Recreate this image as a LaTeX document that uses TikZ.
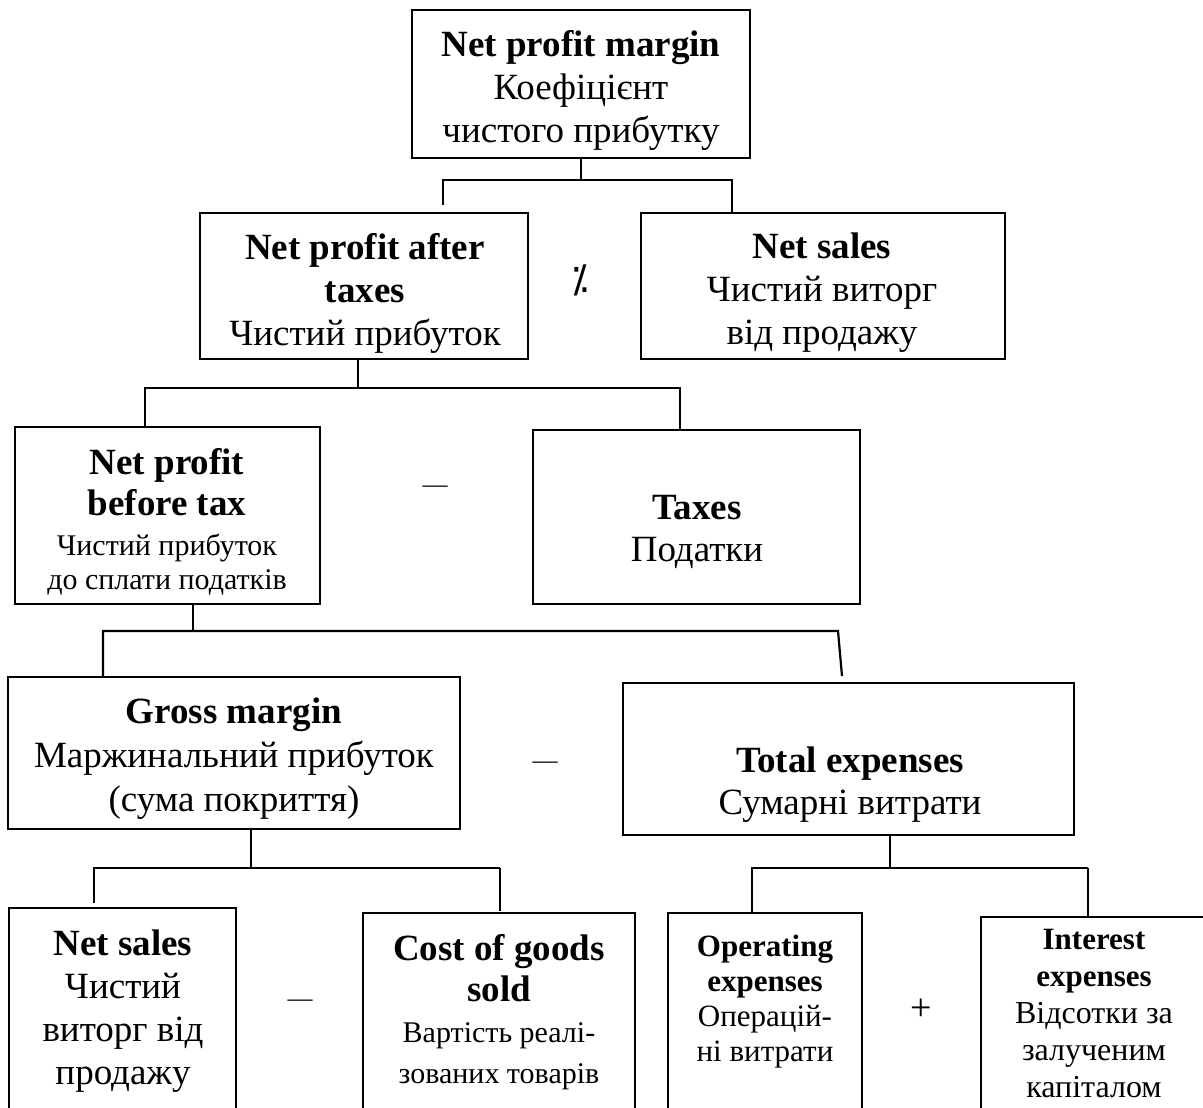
\documentclass[tikz,border=0pt]{standalone}
\usepackage{fontspec}
\setmainfont{Liberation Serif}
\newfontfamily\symfont{DejaVu Sans}
\begin{document}
\begin{tikzpicture}[x=1pt,y=-1pt,
  box/.style={draw, rectangle, line width=2.4pt, inner sep=0pt},
  link/.style={line width=2.2pt},
  thinlink/.style={line width=1.8pt},
  txt/.style={anchor=north, inner sep=0pt, align=center, execute at begin node=\strut},
  op/.style={anchor=base, inner sep=0pt, font=\fontsize{25}{30}\selectfont}]
\useasboundingbox (0,0) rectangle (1203,1108);
\clip (0,0) rectangle (1203,1108);

% frames
\node[box, minimum width=338pt, minimum height=148pt] (A) at (581,84) {};
\node[box, minimum width=328pt, minimum height=146pt] (B) at (364,286) {};
\node[box, minimum width=364pt, minimum height=146pt] (C) at (823,286) {};
\node[box, minimum width=305pt, minimum height=177pt] (D) at (167.5,515.5) {};
\node[box, minimum width=327pt, minimum height=174pt] (E) at (696.5,517) {};
\node[box, minimum width=452pt, minimum height=152pt] (F) at (234,753) {};
\node[box, minimum width=451pt, minimum height=152pt] (G) at (848.5,759) {};
\node[box, minimum width=227pt, minimum height=217pt] (H) at (122.5,1016.5) {};
\node[box, minimum width=272pt, minimum height=212pt] (I) at (499,1019) {};
\node[box, minimum width=194pt, minimum height=212pt] (J) at (765,1019) {};
\node[box, minimum width=231pt, minimum height=208pt] (K) at (1096.5,1021) {};

% labels
\node[txt, font=\fontsize{37}{43}\selectfont] (At) at (581,30)
  {\textbf{Net profit margin}\\Коефіцієнт\\чистого прибутку};
\node[txt, font=\fontsize{37}{43}\selectfont] (Bt) at (365,233)
  {\textbf{Net profit after}\\\textbf{taxes}\\Чистий прибуток};
\node[txt, font=\fontsize{37}{43}\selectfont] (Ct) at (822,233)
  {\textbf{Net sales}\\Чистий виторг\\від продажу};
\node[txt, font=\fontsize{37}{41}\selectfont\bfseries] (Dt) at (167,448)
  {Net profit\\before tax};
\node[txt, font=\fontsize{30}{34}\selectfont] (Ds) at (167,534)
  {Чистий прибуток\\до сплати податків};
\node[txt, font=\fontsize{37}{42}\selectfont] (Et) at (697,495)
  {\textbf{Taxes}\\Податки};
\node[txt, font=\fontsize{37}{44}\selectfont] (Ft) at (234,698)
  {\textbf{Gross margin}\\Маржинальний прибуток\\(сума покриття)};
\node[txt, font=\fontsize{37}{42}\selectfont] (Gt) at (850,747)
  {\textbf{Total expenses}\\Сумарні витрати};
\node[txt, font=\fontsize{37}{43}\selectfont] (Ht) at (123,930)
  {\textbf{Net sales}\\Чистий\\виторг від\\продажу};
\node[txt, font=\fontsize{37}{41}\selectfont\bfseries] (It) at (499,934)
  {Cost of goods\\sold};
\node[txt, font=\fontsize{30}{41}\selectfont] (Is) at (499,1022)
  {Вартість реалі-\\зованих товарів};
\node[txt, font=\fontsize{31}{35}\selectfont] (Jt) at (765,935)
  {\textbf{Operating}\\\textbf{expenses}\\Операцій-\\ні витрати};
\node[txt, font=\fontsize{31}{37}\selectfont\bfseries] (Kt) at (1094,929)
  {Interest\\expenses};
\node[txt, font=\fontsize{32}{37}\selectfont] (Ks) at (1094,1002)
  {Відсотки за\\залученим\\капіталом};

% operators
\node[inner sep=0pt, font=\fontsize{38}{44}\selectfont\symfont] (o1) at (580,280) {⁒};
\node[op] (o2) at (435,492) {—};
\node[op] (o3) at (545,768) {—};
\node[op] (o4) at (300,1006) {—};
\node[inner sep=0pt, font=\fontsize{38}{44}\selectfont] (o5) at (921,1010) {+};

% bracket under A
\coordinate (a1) at (443,180);
\coordinate (a1e) at (443,205);
\coordinate (a2) at (732,180);
\draw[link] (A.south) -- (A.south |- a1);
\draw[link] (a1e) -- (a1) -- (a2) -- (C.north -| a2);

% bracket under B
\coordinate (bm) at (358,388);
\coordinate (b1) at (145,388);
\coordinate (b2) at (680,388);
\draw[link] (B.south -| bm) -- (bm);
\draw[link] (D.north -| b1) -- (b1) -- (b2) -- (E.north -| b2);

% bracket under D
\coordinate (cm) at (193,631);
\coordinate (c1) at (103,631);
\coordinate (c2) at (838,631);
\coordinate (c2e) at (842,676);
\draw[link] (D.south -| cm) -- (cm);
\draw[link] (F.north -| c1) -- (c1) -- (c2) -- (c2e);

% bracket under F
\coordinate (dm) at (251,868);
\coordinate (d1) at (94,868);
\coordinate (d1e) at (94,903);
\coordinate (d2) at (500,868);
\coordinate (d2e) at (500,911);
\draw[thinlink] (F.south -| dm) -- (dm);
\draw[link] (d1e) -- (d1) -- (d2);
\draw[thinlink] (d2) -- (d2e);

% bracket under G
\coordinate (em) at (890,868);
\coordinate (e1) at (752,868);
\coordinate (e2) at (1088,868);
\draw[thinlink] (G.south -| em) -- (em);
\draw[link] (J.north -| e1) -- (e1) -- (e2);
\draw[thinlink] (e2) -- (K.north -| e2);
\end{tikzpicture}
\end{document}
